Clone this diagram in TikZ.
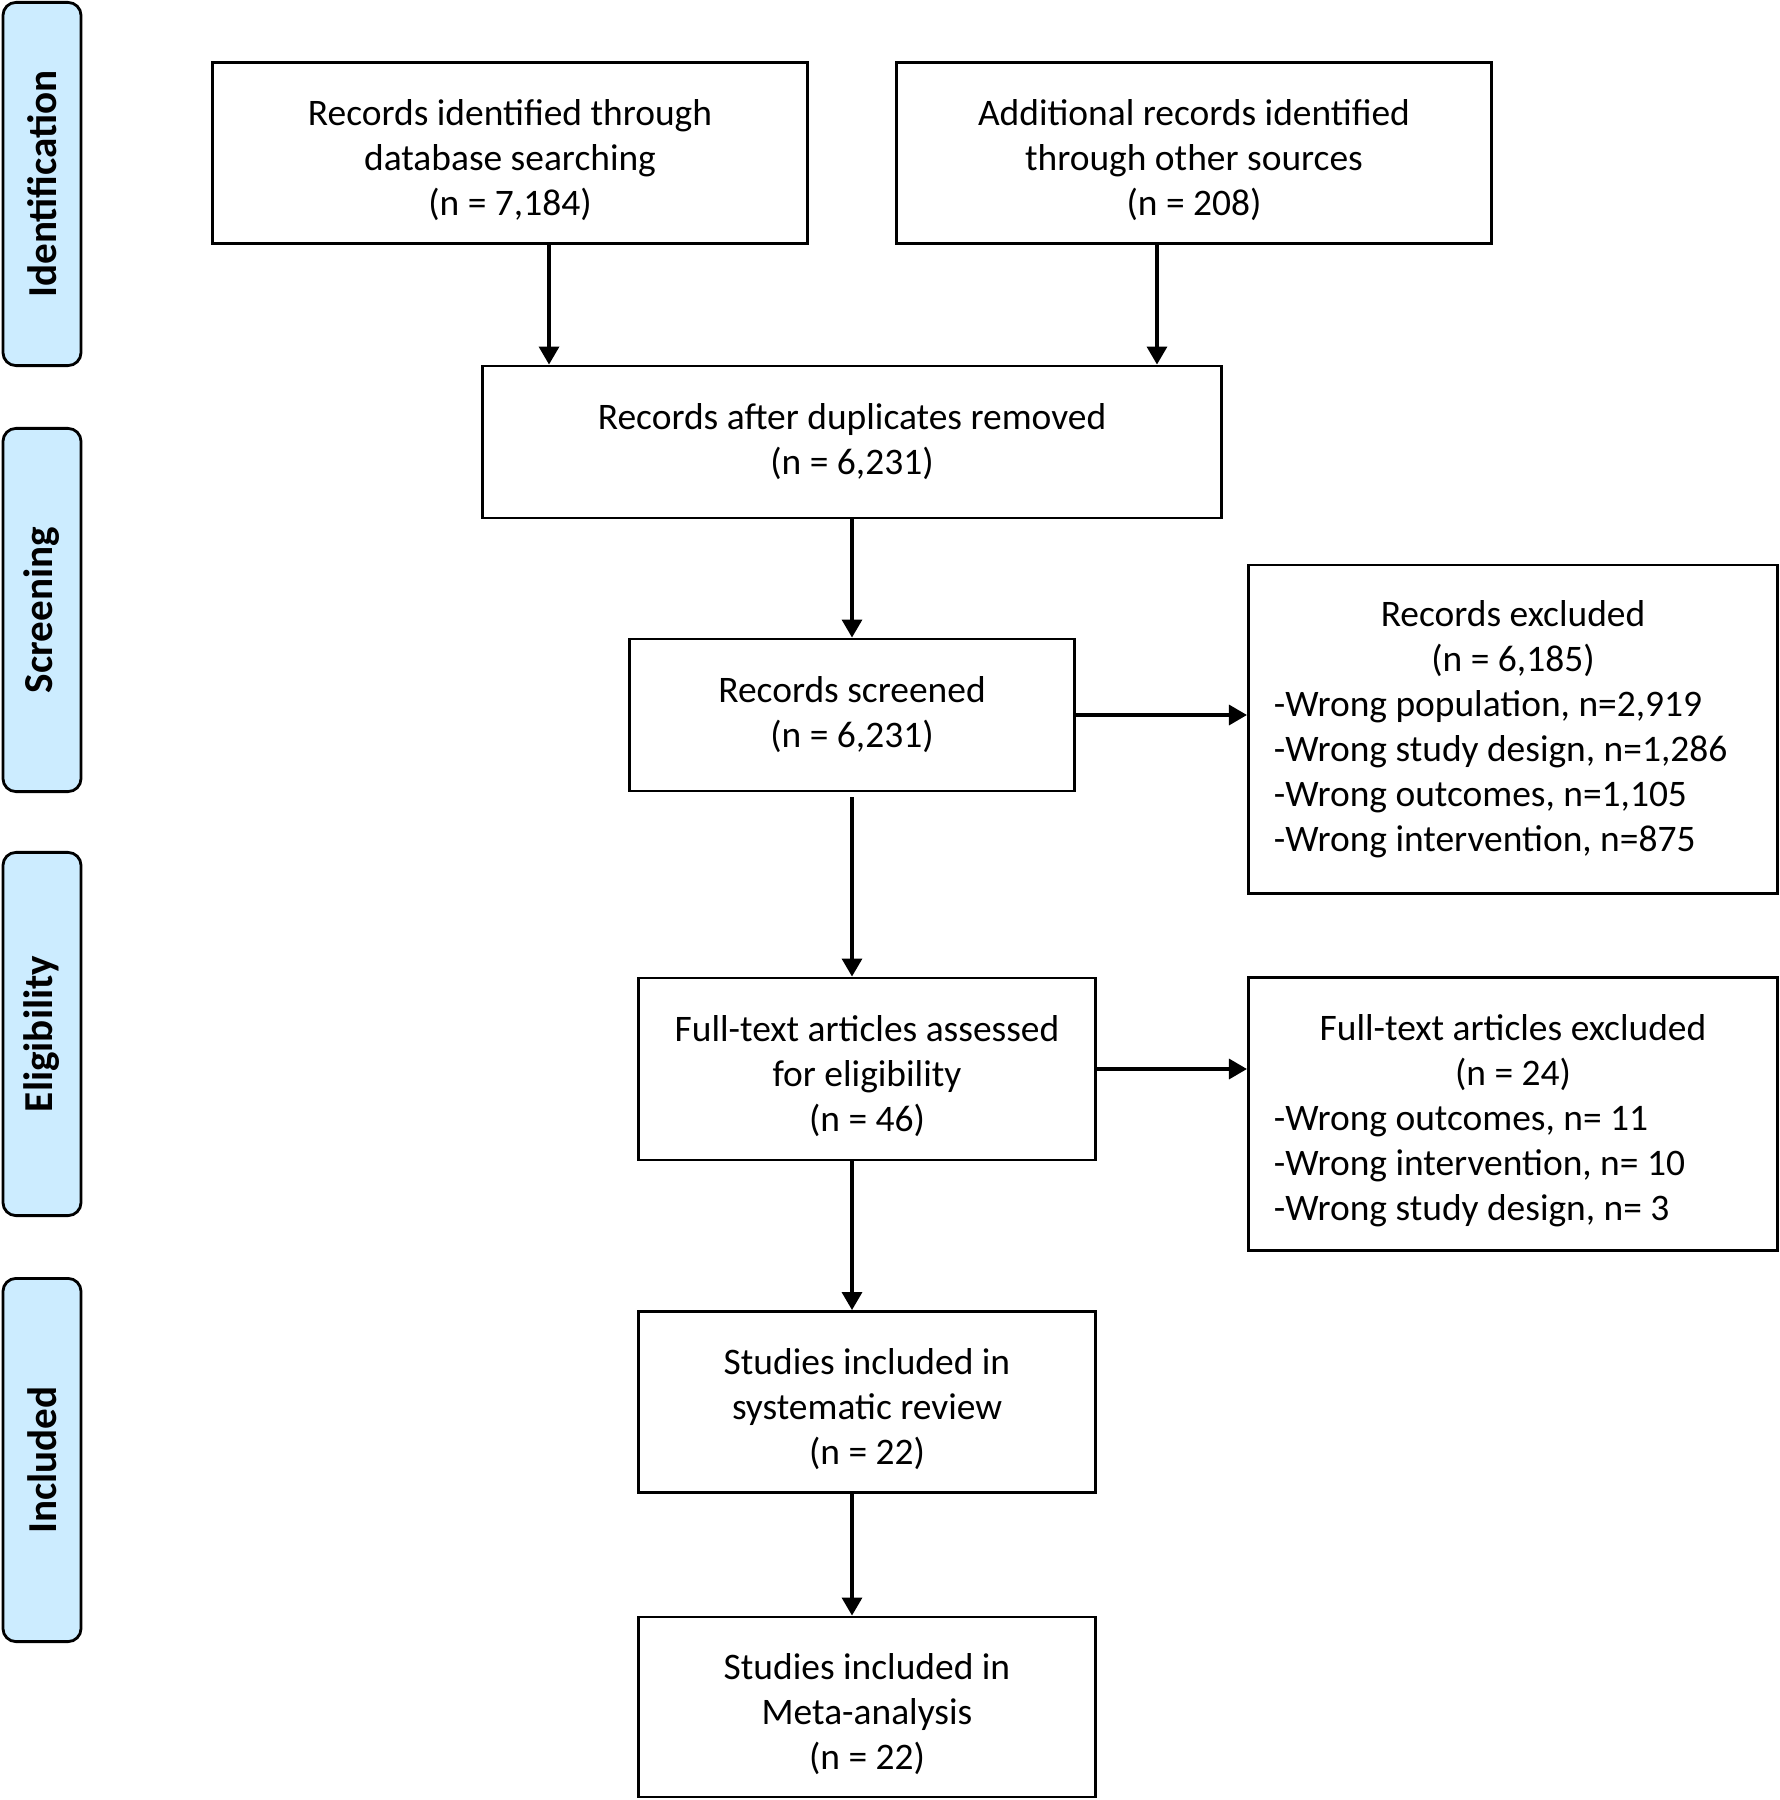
\documentclass[tikz,border=0pt]{standalone}
\usepackage{fontspec}
\setmainfont{Carlito}
\usetikzlibrary{arrows.meta}
\definecolor{phasefill}{RGB}{204,236,255}
\newcommand\topgap{\rule{0pt}{0.40cm}}

\begin{document}
\begin{tikzpicture}[x=0.01cm, y=-0.01cm,
    box/.style={draw, line width=0.8pt, align=center, inner sep=0pt,
                font=\fontsize{10.65}{12.8}\selectfont},
    listbox/.style={box, align=flush left, text width=4.78cm, minimum width=5.29cm},
    phase/.style={draw, line width=0.8pt, fill=phasefill, rounded corners=0.13cm, rotate=90,
                  minimum width=3.63cm, minimum height=0.78cm, inner sep=0pt,
                  font=\fontsize{11.7}{13}\selectfont\bfseries},
    arr/.style={-{Triangle[length=0.18cm, width=0.2cm]}, line width=0.95pt}]
    \useasboundingbox (0, 0) rectangle (1780, 1800);

    \node [phase] (ident) at (42, 184) {Identification};
    \node [phase] (screen) at (42, 610) {Screening};
    \node [phase] (elig) at (42, 1034) {Eligibility};
    \node [phase] (incl) at (42, 1460) {Included};

    \node [box, minimum width=5.94cm, minimum height=1.81cm] (dbsearch) at (510, 153)
        {\topgap Records identified through\\database searching\\(n = 7,184)};
    \node [box, minimum width=5.94cm, minimum height=1.81cm] (othersrc) at (1194, 153)
        {\topgap Additional records identified\\through other sources\\(n = 208)};
    \node [box, minimum width=7.38cm, minimum height=1.52cm] (dedup) at (852, 442)
        {Records after duplicates removed\\(n = 6,231)};
    \node [box, minimum width=4.44cm, minimum height=1.52cm] (screened) at (852, 715)
        {Records screened\\(n = 6,231)};
    \node [listbox, minimum height=3.28cm] (recexcl) at (1513, 729)
        {\makebox[4.78cm]{Records excluded}\\
         \makebox[4.78cm]{(n = 6,185)}\\
         -Wrong population, n=2,919\\
         -Wrong study design, n=1,286\\
         -Wrong outcomes, n=1,105\\
         -Wrong intervention, n=875};
    \node [box, minimum width=4.57cm, minimum height=1.82cm] (fulltext) at (867, 1069)
        {\topgap Full-text articles assessed\\for eligibility\\(n = 46)};
    \node [listbox, minimum height=2.73cm] (ftexcl) at (1513, 1114)
        {\topgap\makebox[4.78cm]{Full-text articles excluded}\\
         \makebox[4.78cm]{(n = 24)}\\
         -Wrong outcomes, n= 11\\
         -Wrong intervention, n= 10\\
         -Wrong study design, n= 3};
    \node [box, minimum width=4.57cm, minimum height=1.81cm] (sysrev) at (867, 1402)
        {\topgap Studies included in\\systematic review\\(n = 22)};
    \node [box, minimum width=4.57cm, minimum height=1.80cm] (meta) at (867, 1707)
        {\topgap Studies included in\\Meta-analysis\\(n = 22)};

    \draw [arr] ([xshift=0.39cm]dbsearch.south) -- ([xshift=0.39cm]dbsearch.south |- dedup.north);
    \draw [arr] ([xshift=-0.37cm]othersrc.south) -- ([xshift=-0.37cm]othersrc.south |- dedup.north);
    \draw [arr] (dedup) -- (screened);
    \draw [arr] ([yshift=-0.05cm]screened.south) -- (screened.south |- fulltext.north);
    \draw [arr] (screened.south |- fulltext.south) -- (screened.south |- sysrev.north);
    \draw [arr] (screened.south |- sysrev.south) -- (screened.south |- meta.north);
    \draw [arr] (screened.east) -- (screened.east -| recexcl.west);
    \draw [arr] (fulltext.east) -- (fulltext.east -| ftexcl.west);

\end{tikzpicture}
\end{document}
